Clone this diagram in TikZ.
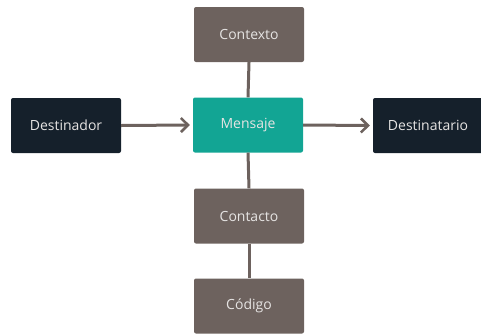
\documentclass[tikz,border=0pt]{standalone}
\usepackage{fontspec}
\setmainfont{Open Sans}
\usetikzlibrary{arrows.meta}
\definecolor{boxbrown}{HTML}{6D625E}
\definecolor{boxteal}{HTML}{12A594}
\definecolor{boxnavy}{HTML}{15202B}
\definecolor{linkbrown}{HTML}{6D625E}
\definecolor{labelgray}{HTML}{E6E4E3}
\tikzset{
  blk/.style={minimum width=110pt, minimum height=55pt, rounded corners=2pt,
    font=\fontsize{14}{16}\selectfont, inner sep=0pt},
  brownblk/.style={blk, fill=boxbrown, text=labelgray},
  tealblk/.style={blk, fill=boxteal, text=labelgray},
  navyblk/.style={blk, fill=boxnavy, text=labelgray},
  link/.style={draw=linkbrown, line width=3pt},
  flow/.style={link, -{Straight Barb[length=7pt, width=14pt, line width=2.6pt]}},
}
\begin{document}
\begin{tikzpicture}[x=1pt, y=-1pt]
  \useasboundingbox (0,0) rectangle (481,333);
  \node[navyblk]  (dor)  at (66,125.5)  {Destinador};
  \node[tealblk]  (msg)  at (248,125)   {Mensaje};
  \node[navyblk]  (tar)  at (428,125.5) {Destinatario};
  \node[brownblk] (ctx)  at (249,34.5)  {Contexto};
  \node[brownblk] (cto)  at (249,216)   {Contacto};
  \node[brownblk] (cod)  at (249,306)   {Código};
  \draw[flow] (dor.east) -- ([xshift=-3pt]msg.west);
  \draw[flow] (msg.east) -- ([xshift=-3pt]tar.west);
  \draw[link] (ctx.south) -- (msg.north);
  \draw[link] (msg.south) -- (cto.north);
  \draw[link] (cto.south) -- (cod.north);
\end{tikzpicture}
\end{document}
